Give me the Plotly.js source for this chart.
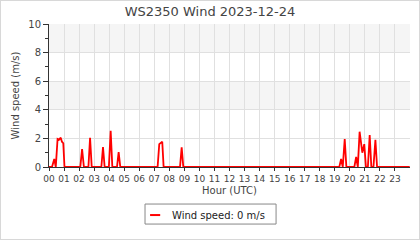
<!DOCTYPE html>
<html><head><meta charset="utf-8">
<script src="https://cdn.plot.ly/plotly-3.0.1.min.js"></script>
<style>
html,body{margin:0;padding:0;background:#fff;}
#frame{width:420px;height:240px;box-sizing:border-box;border:1px solid #d8d8d8;}
#chart{width:418px;height:238px;}
</style></head>
<body><div id="frame"><div id="chart"></div></div>
<script>
const hours = [0, 0.2, 0.35, 0.45, 0.57, 0.66, 0.78, 0.86, 0.95, 1.03,
  2.08, 2.2, 2.32, 2.62, 2.73, 2.84, 3.48, 3.59, 3.7, 3.98, 4.1, 4.21,
  4.52, 4.63, 4.74, 7.22, 7.33, 7.43, 7.53, 7.62, 8.71, 8.82, 8.93,
  19.3, 19.42, 19.53, 19.66, 19.77, 20.3, 20.42, 20.53, 20.65, 20.83,
  20.96, 21.07, 21.2, 21.32, 21.43, 21.57, 21.7, 21.81, 21.96, 23.98];
const speeds = [0, 0, 0.56, 0, 1.96, 1.9, 2.05, 1.77, 1.66, 0,
  0, 1.26, 0, 0, 2.05, 0, 0, 1.4, 0, 0, 2.54, 0,
  0, 1.05, 0, 0, 1.6, 1.7, 1.77, 0, 0, 1.38, 0,
  0, 0.56, 0, 1.96, 0, 0, 0.7, 0, 2.47, 1.0,
  1.6, 0, 0, 2.24, 0, 0, 1.9, 0, 0, 0];
const hourTicks = Array.from({length: 24}, (_, i) => i);
const hourLabels = hourTicks.map(h => String(h).padStart(2, '0'));
const currentSpeed = 0;
const seriesLabel = 'Wind speed: ' + currentSpeed + ' m/s';

const trace = {
  x: hours, y: speeds, type: 'scatter', mode: 'lines',
  name: seriesLabel, showlegend: false,
  line: {color: '#ff0000', width: 1.8}
};
const bands = [[4, 6], [8, 10]].map(b => ({
  type: 'rect', xref: 'paper', yref: 'y', x0: 0, x1: 1, y0: b[0], y1: b[1],
  fillcolor: '#f5f5f5', line: {width: 0}, layer: 'below'
}));
// custom legend box (paper coordinates)
const legendShapes = [
  {type: 'rect', xref: 'paper', yref: 'paper', x0: 0.266, x1: 0.629, y0: -0.399, y1: -0.259,
   fillcolor: 'rgba(0,0,0,0)', line: {color: '#888', width: 1}},
  {type: 'line', xref: 'paper', yref: 'paper', x0: 0.280, x1: 0.308, y0: -0.336, y1: -0.336,
   line: {color: '#ff0000', width: 2}}
];
const layout = {
  width: 418, height: 238,
  margin: {l: 48, r: 9, t: 23, b: 72},
  paper_bgcolor: '#fff', plot_bgcolor: '#fff',
  font: {family: 'DejaVu Sans, sans-serif', size: 9, color: '#444'},
  title: {text: 'WS2350 Wind 2023-12-24', font: {size: 13, color: '#444'}, x: 0.5, xanchor: 'center', y: 0.955, yanchor: 'middle'},
  xaxis: {range: [0, 24], tickvals: hourTicks, ticktext: hourLabels, showgrid: true,
    gridcolor: '#e0e0e0', showline: true, linecolor: '#333', ticks: 'outside', ticklen: 3, tickcolor: '#333',
    zeroline: false, fixedrange: true,
    title: {text: 'Hour (UTC)', font: {size: 10}, standoff: 4}},
  yaxis: {range: [0, 10], dtick: 2, showgrid: true, gridcolor: '#e0e0e0', showline: true, linecolor: '#333',
    ticks: 'outside', ticklen: 5, tickcolor: '#333', zeroline: false, fixedrange: true,
    tickfont: {size: 10},
    minor: {dtick: 1, ticks: 'outside', ticklen: 3, tickcolor: '#333', showgrid: false},
    title: {text: 'Wind speed (m/s)', font: {size: 10}, standoff: 6}},
  shapes: bands.concat(legendShapes),
  annotations: [{text: seriesLabel, xref: 'paper', yref: 'paper', x: 0.335, y: -0.336,
    xanchor: 'left', yanchor: 'middle', showarrow: false, font: {size: 10, color: '#222'}}],
  showlegend: false
};
Plotly.newPlot('chart', [trace], layout, {staticPlot: true, displayModeBar: false});
</script></body></html>
